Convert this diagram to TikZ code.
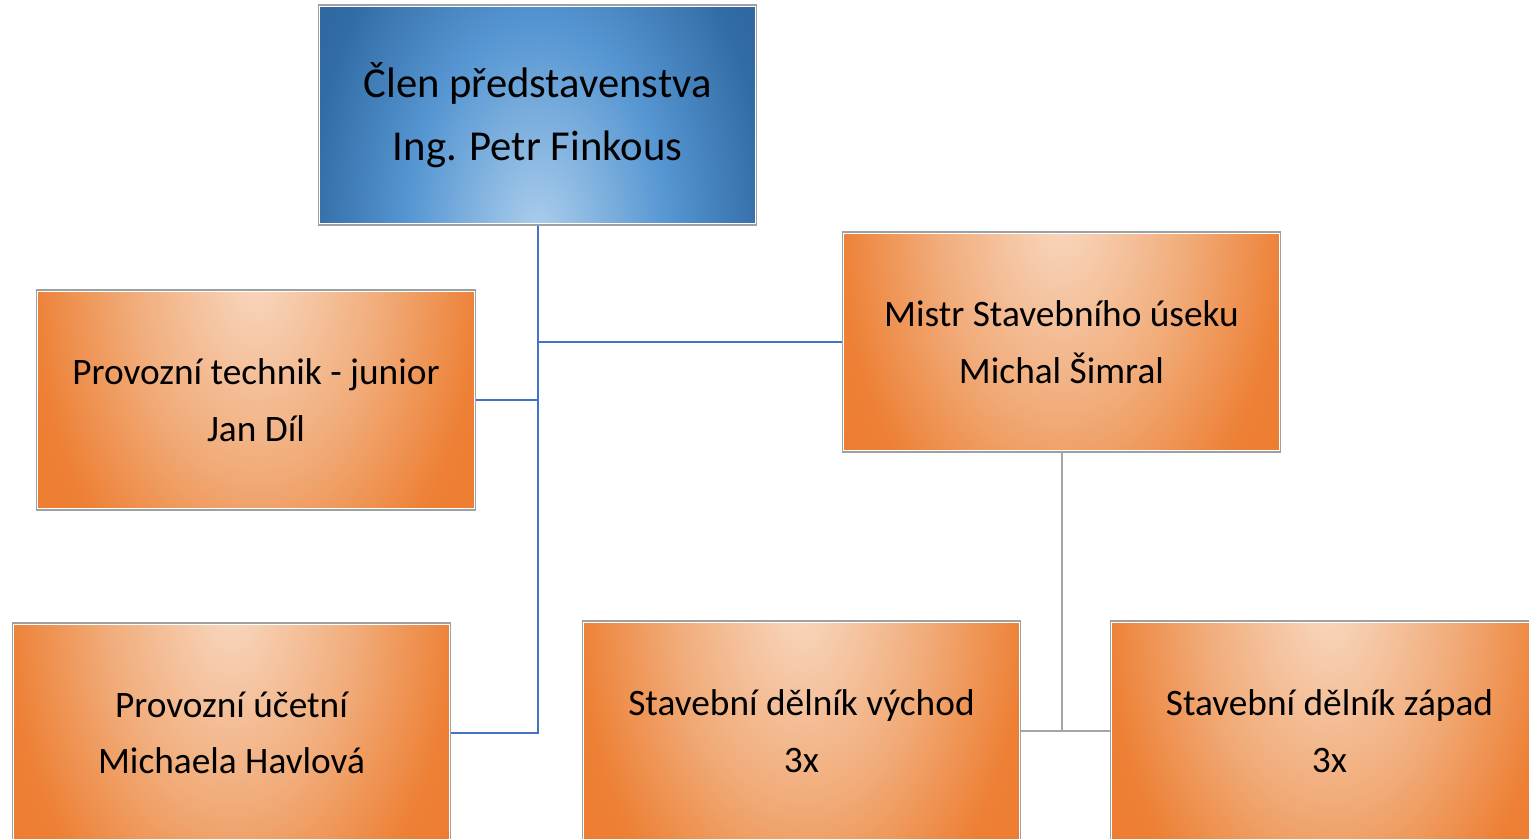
\documentclass[tikz,border=0pt]{standalone}
\usepackage{fontspec}
\setmainfont{Carlito}
\usetikzlibrary{calc}

\definecolor{peach}{RGB}{248,216,193}
\definecolor{midorange}{RGB}{241,172,122}
\definecolor{deeporange}{RGB}{237,128,53}
\definecolor{edgeorange}{RGB}{236,122,45}
\definecolor{paleblue}{RGB}{172,206,236}
\definecolor{midblue}{RGB}{86,150,210}
\definecolor{deepblue}{RGB}{50,108,165}
\definecolor{edgeblue}{RGB}{44,98,152}
\definecolor{boxgray}{RGB}{160,160,160}
\definecolor{linkblue}{RGB}{68,114,196}
\definecolor{linkgray}{RGB}{165,165,165}

\pgfdeclareradialshading{orangeglow}{\pgfpointorigin}{color(0bp)=(peach); color(12.5bp)=(midorange); color(22.5bp)=(deeporange); color(30bp)=(edgeorange); color(40bp)=(edgeorange)}
\pgfdeclareradialshading{blueglow}{\pgfpointorigin}{color(0bp)=(paleblue); color(13bp)=(midblue); color(23bp)=(deepblue); color(30bp)=(edgeblue); color(40bp)=(edgeblue)}

\tikzset{
  orgbox/.style={rectangle, draw=boxgray, line width=0.9pt,
    minimum width=329pt, minimum height=165pt, inner sep=0pt, align=center,
    font=\fontsize{28}{42.5}\selectfont,
    path picture={
      \shade[shading=orangeglow]
        ($(path picture bounding box.north)+(-250,-380)$) rectangle
        ($(path picture bounding box.north)+(250,420)$);
      \draw[white, line width=2.4pt] (path picture bounding box.south west) rectangle (path picture bounding box.north east);
    }},
  headbox/.style={rectangle, draw=boxgray, line width=0.9pt,
    minimum width=329pt, minimum height=165pt, inner sep=0pt, align=center,
    font=\fontsize{32}{47.5}\selectfont,
    path picture={
      \shade[shading=blueglow]
        ($(path picture bounding box.south)+(-250,-410)$) rectangle
        ($(path picture bounding box.south)+(250,390)$);
      \draw[white, line width=2.4pt] (path picture bounding box.south west) rectangle (path picture bounding box.north east);
    }},
  blueline/.style={draw=linkblue, line width=1.5pt},
  grayline/.style={draw=linkgray, line width=1.5pt}
}

\begin{document}
\begin{tikzpicture}[x=0.75pt,y=0.75pt,yscale=-1,xscale=1]
\path[fill=white] (0,0) rectangle (1529,839);
\clip (0,0) rectangle (1529,839);

% Boxes
\node[headbox] (clen) at (537.5,115) {Člen představenstva\\Ing. Petr Finkous};
\node[orgbox] (tech) at (256,400) {Provozní technik - junior\\Jan Díl};
\node[orgbox] (mistr) at (1061.5,342) {Mistr Stavebního úseku\\Michal Šimral};
\node[orgbox] (ucetni) at (231.5,733) {Provozní účetní\\Michaela Havlová};
\node[orgbox] (vychod) at (801.5,731) {Stavební dělník východ\\3x};
\node[orgbox] (zapad) at (1329.5,731) {Stavební dělník západ\\3x};

%Straight Lines
\draw[blueline] (clen.south) -- (clen.south |- ucetni.east) -- (ucetni.east);
\draw[blueline] (tech.east) -- (tech.east -| clen.south);
\draw[blueline] (mistr.west) -- (mistr.west -| clen.south);
\draw[grayline] (mistr.south) -- (mistr.south |- vychod.east);
\draw[grayline] (vychod.east) -- (zapad.west);

\end{tikzpicture}
\end{document}
